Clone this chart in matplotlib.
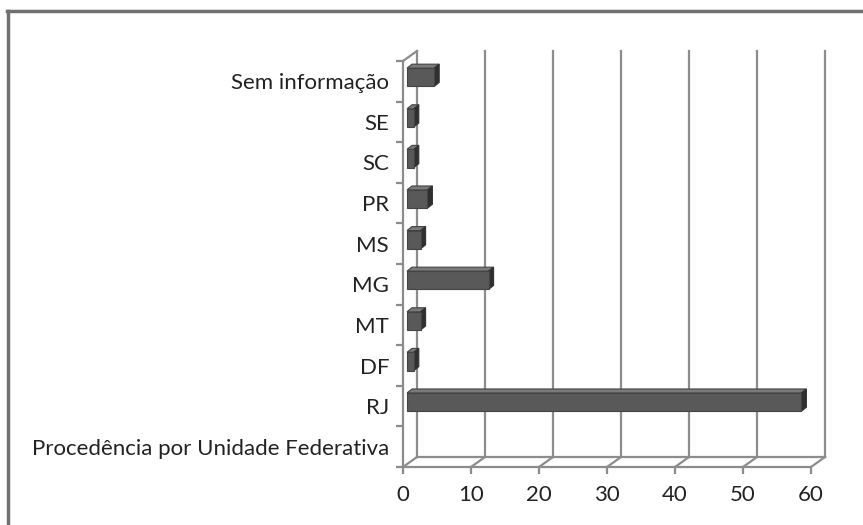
import matplotlib
matplotlib.use('Agg')
import matplotlib.pyplot as plt
from matplotlib.patches import Polygon

# procedência dos casos por UF (de baixo para cima)
categorias = ['Procedência por Unidade Federativa', 'RJ', 'DF', 'MT', 'MG',
              'MS', 'PR', 'SC', 'SE', 'Sem informação']
valores = [0, 58, 1, 2, 12, 2, 3, 1, 1, 4]
ticks_x = [0, 10, 20, 30, 40, 50, 60]

W, H, DPI = 863, 525, 100
plt.rcParams['font.family'] = ['Lato', 'DejaVu Sans']

fig = plt.figure(figsize=(W / DPI, H / DPI), dpi=DPI)
fig.patch.set_facecolor('white')

# área do gráfico em pixels
x0, x1, y_top, y_bot = 403, 811, 61, 467
ax = fig.add_axes([x0 / W, (H - y_bot) / H, (x1 - x0) / W, (y_bot - y_top) / H])
ax.set_xlim(ticks_x[0], ticks_x[-1])
ax.set_ylim(-0.5, len(categorias) - 0.5)
ax.patch.set_alpha(0)

# conversão pixel -> unidade de dados
ux = (ticks_x[-1] - ticks_x[0]) / (x1 - x0)
uy = len(categorias) / (y_bot - y_top)

grid_c = '#8c8c8c'
lw = 1.6
# profundidade do "3D"
dx, dy = 14 * ux, 10 * uy
ylo, yhi = -0.5, len(categorias) - 0.5

# parede do fundo e piso
for t in ticks_x:
    ax.plot([t + dx, t + dx], [ylo + dy, yhi + dy], color=grid_c, lw=lw,
            clip_on=False, zorder=1)
    ax.plot([t, t + dx], [ylo, ylo + dy], color=grid_c, lw=lw,
            clip_on=False, zorder=1)
ax.plot([ticks_x[0] + dx, ticks_x[-1] + dx], [ylo + dy, ylo + dy],
        color=grid_c, lw=lw, clip_on=False, zorder=1)
ax.plot([0, dx], [yhi, yhi + dy], color=grid_c, lw=lw, clip_on=False, zorder=1)

# barras com faces frontal, superior e lateral
h = 0.45
fx, fy = 4 * ux, 4 * uy
bx, by = 9 * ux, 8 * uy
for i, v in enumerate(valores):
    if v <= 0:
        continue
    yb = i - h / 2 + fy
    yt = i + h / 2 + fy
    ax.barh(i + fy, v, height=h, left=fx, color='#595959',
            edgecolor='#444444', lw=0.8, zorder=3)
    topo = [(fx, yt), (fx + v, yt), (bx + v, yt + (by - fy)), (bx, yt + (by - fy))]
    lado = [(fx + v, yb), (fx + v, yt), (bx + v, yt + (by - fy)), (bx + v, yb + (by - fy))]
    ax.add_patch(Polygon(topo, closed=True, facecolor='#7a7a7a',
                         edgecolor='#444444', lw=0.8, zorder=2, clip_on=False))
    ax.add_patch(Polygon(lado, closed=True, facecolor='#2f2f2f',
                         edgecolor='#333333', lw=0.8, zorder=2, clip_on=False))

# eixos frontais
for s in ['top', 'right']:
    ax.spines[s].set_visible(False)
for s in ['left', 'bottom']:
    ax.spines[s].set_color(grid_c)
    ax.spines[s].set_linewidth(lw)

ax.set_xticks(ticks_x)
ax.set_xticklabels([str(t) for t in ticks_x])
ax.set_yticks(range(len(categorias)))
ax.set_yticklabels(categorias)
ax.set_yticks([i - 0.5 for i in range(len(categorias) + 1)], minor=True)
ax.tick_params(axis='y', which='major', length=0, pad=10, labelsize=16,
               labelcolor='#222222')
ax.tick_params(axis='y', which='minor', length=5, width=lw, color=grid_c)
ax.tick_params(axis='x', length=5, width=lw, color=grid_c, pad=8,
               labelsize=16, labelcolor='#222222')

# moldura externa
fig.add_artist(plt.Line2D([7 / W, 1], [1 - 11 / H, 1 - 11 / H],
                          color='#707070', lw=2.5))
fig.add_artist(plt.Line2D([8 / W, 8 / W], [0, 1 - 11 / H],
                          color='#707070', lw=2.5))

fig.savefig('out.png', dpi=DPI)
